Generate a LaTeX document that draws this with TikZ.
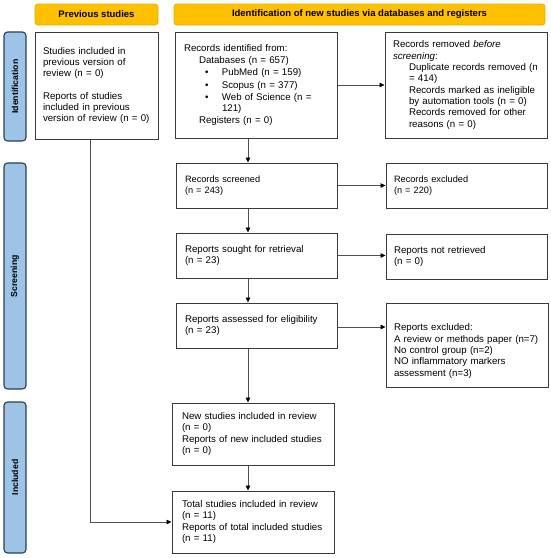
\documentclass[tikz,border=0pt]{standalone}
\usepackage{fontspec}
\setmainfont{Liberation Sans}
\usetikzlibrary{arrows.meta,positioning}
\definecolor{hdrfill}{HTML}{FFC000}
\definecolor{hdrdraw}{HTML}{E8AE00}
\definecolor{sidefill}{HTML}{9DC3E6}
\definecolor{sidedraw}{HTML}{2B3F52}
\definecolor{boxdraw}{HTML}{3A3A3A}
\definecolor{arrcol}{HTML}{505050}
\begin{document}
\begin{tikzpicture}[x=1pt,y=-1pt,
  hdr/.style={draw=hdrdraw,fill=hdrfill,rounded corners=3pt,line width=0.8pt,
    font=\fontsize{9.5}{11}\selectfont\bfseries,inner sep=0pt,minimum height=21pt},
  side/.style={draw=sidedraw,fill=sidefill,rounded corners=3.5pt,line width=1.1pt,
    minimum width=22pt,inner sep=0pt},
  sidelab/.style={rotate=90,font=\fontsize{8.7}{10}\selectfont\bfseries},
  box/.style={draw=boxdraw,line width=1pt,align=left,inner xsep=8pt,inner ysep=0pt,
    font=\fontsize{9.7}{11.3}\selectfont},
  smallbox/.style={box,font=\fontsize{9.2}{11.3}\selectfont},
  arr/.style={draw=arrcol,line width=0.7pt,-{Triangle[length=5pt,width=4.5pt,color=black]}},
  ln/.style={draw=arrcol,line width=0.7pt}
]
\useasboundingbox[fill=white] (0,0) rectangle (550,558);
% headers
\node[hdr,minimum width=123pt] (hprev) at (96.5,14.5) {Previous studies};
\node[hdr,minimum width=371pt] (hnew) at (359.5,14.5) {Identification of new studies via databases and registers};
% side bars
\node[side,minimum height=109pt] (sideid) at (15,86.5) {};
\node[sidelab] (sideidl) at (sideid.center) {Identification};
\node[side,minimum height=226pt] (sidescr) at (15,276) {};
\node[sidelab] (sidescrl) at (sidescr.center) {Screening};
\node[side,minimum height=151pt] (sideinc) at (15,477.5) {};
\node[sidelab] (sideincl) at (sideinc.center) {Included};
% boxes
\node[box,minimum width=123pt,minimum height=107pt,text width=107pt] (prev) at (96.5,85.5)
 {Studies included in\\previous version of\\review (n = 0)\\[11.3pt]Reports of studies\\included in previous\\version of review (n = 0)};
\node[box,minimum width=162pt,minimum height=106pt,text width=144pt,inner xsep=9pt] (ident) at (256,85)
 {Records identified from:\\
 \hspace*{15pt}Databases (n = 657)\\[1.2pt]
 \hspace*{21pt}\textbullet\hspace*{13.5pt}PubMed (n = 159)\\[1.2pt]
 \hspace*{21pt}\textbullet\hspace*{13.5pt}Scopus (n = 377)\\[1.2pt]
 \hspace*{21pt}\textbullet\hspace*{13.5pt}Web of Science (n =\\
 \hspace*{38pt}121)\\
 \hspace*{15pt}Registers (n = 0)};
\node[box,minimum width=162pt,minimum height=106pt,text width=146pt] (removed) at (466,85)
 {Records removed \emph{before}\\\emph{screening}:\\
 \hspace*{16pt}Duplicate records removed (n\\
 \hspace*{16pt}= 414)\\
 \hspace*{16pt}Records marked as ineligible\\
 \hspace*{16pt}by automation tools (n = 0)\\
 \hspace*{16pt}Records removed for other\\
 \hspace*{16pt}reasons (n = 0)};
\node[smallbox,minimum width=161pt,minimum height=45pt,text width=143pt,inner xsep=9pt] (screened) at (256.5,185.5)
 {Records screened\\(n = 243)};
\node[smallbox,minimum width=161pt,minimum height=45pt,text width=145pt] (excluded) at (466.5,185.5)
 {Records excluded\\(n = 220)};
\node[box,minimum width=161pt,minimum height=45pt,text width=143pt,inner xsep=9pt] (sought) at (256.5,255.5)
 {Reports sought for retrieval\\(n = 23)};
\node[box,minimum width=161pt,minimum height=45pt,text width=145pt] (notret) at (466.5,256.5)
 {Reports not retrieved\\(n = 0)};
\node[box,minimum width=161pt,minimum height=45pt,text width=143pt,inner xsep=9pt] (assessed) at (256.5,325.5)
 {Reports assessed for eligibility\\(n = 23)};
\node[box,minimum width=162pt,minimum height=84pt,text width=146pt] (repexcl) at (467,345)
 {\rule{0pt}{19pt}Reports excluded:\\A review or methods paper (n=7)\\No control group (n=2)\\NO inflammatory markers\\assessment (n=3)};
\node[box,minimum width=162pt,minimum height=62pt,text width=142pt,inner xsep=10pt] (newinc) at (253,434)
 {New studies included in review\\(n = 0)\\Reports of new included studies\\(n = 0)};
\node[box,minimum width=162pt,minimum height=62pt,text width=142pt,inner xsep=10pt] (total) at (253,522)
 {Total studies included in review\\(n = 11)\\Reports of total included studies\\(n = 11)};
% connectors
\coordinate (vx) at (248,0);
\coordinate (lx) at (90,0);
\draw[arr] (ident.south -| vx) -- (screened.north -| vx);
\draw[arr] (screened.south -| vx) -- (sought.north -| vx);
\draw[arr] (sought.south -| vx) -- (assessed.north -| vx);
\draw[arr] (assessed.south -| vx) -- (newinc.north -| vx);
\draw[arr] (newinc.south -| vx) -- (total.north -| vx);
\draw[arr] (ident.east) -- (ident.east -| removed.west);
\draw[arr] (screened.east) -- (screened.east -| excluded.west);
\draw[arr] (sought.east) -- (sought.east -| notret.west);
\draw[arr] (assessed.east |- 0,327) -- (repexcl.west |- 0,327);
\draw[arr] (prev.south -| lx) |- (total.west);
\end{tikzpicture}
\end{document}
